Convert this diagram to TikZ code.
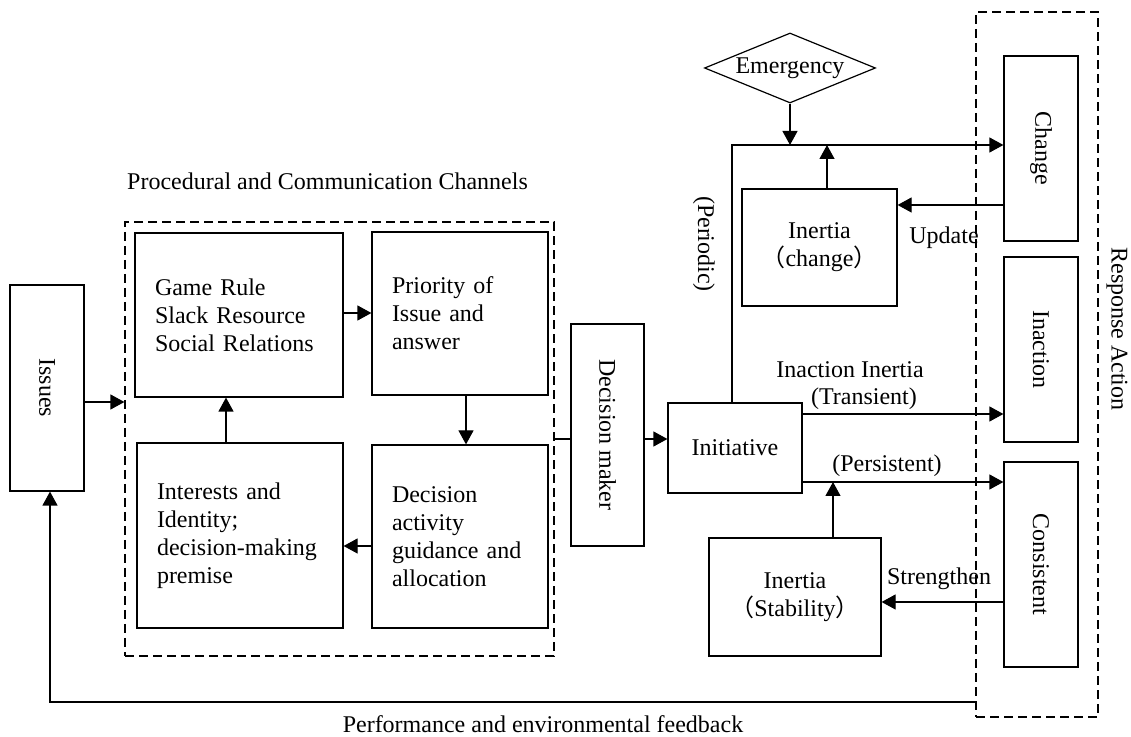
\documentclass[tikz,border=0pt]{standalone}
\usepackage{fontspec}
\setmainfont{Liberation Serif}
\newfontfamily\cjk{Noto Sans CJK SC}
\usetikzlibrary{arrows.meta}
\usetikzlibrary{shapes.geometric}

\tikzset{
  box/.style={draw, line width=0.6pt, inner sep=0pt},
  leftbox/.style={box, align=left, inner xsep=10pt, text width=#1},
  frame/.style={draw, line width=0.6pt, dash pattern=on 4.5pt off 2.5pt},
  arr/.style={line width=0.6pt, -{Triangle[length=7pt,width=7.5pt]}},
  conn/.style={line width=0.6pt},
}

\begin{document}
\begin{tikzpicture}[x=0.5pt, y=-0.5pt, font=\fontsize{12}{14}\selectfont]
\useasboundingbox (0,0) rectangle (1131,737);

% issues and the channels
\node[box, minimum width=37pt, minimum height=103pt] (issues) at (47,388) {\rotatebox{-90}{Issues}};
\node[frame, minimum width=214.5pt, minimum height=217pt] (chan) at (339.5,439) {};
\node (chantitle) at (327.5,181) {Procedural and Communication Channels};

\node[leftbox=84pt, minimum height=82pt] (rules) at (239,315) {Game Rule\\Slack Resource\\Social Relations};
\node[leftbox=68pt, minimum height=81.5pt] (priority) at (460,313.5) {Priority of\\Issue and\\answer};
\node[leftbox=83pt, minimum height=92.5pt] (interests) at (240,535.5) {Interests and\\Identity;\\decision-making\\premise};
\node[leftbox=68pt, minimum height=91.5pt] (activity) at (460,536.5) {Decision\\activity\\guidance and\\allocation};

\draw[arr] ([yshift=-7pt]issues.east) -- ([yshift=-7pt]issues.east -| chan.west);
\draw[arr] ([yshift=1pt]rules.east) -- ([yshift=1pt]rules.east -| priority.west);
\draw[arr] ([xshift=3pt]priority.south) -- ([xshift=3pt]priority.south |- activity.north);
\draw[arr] ([yshift=-4.75pt]activity.west) -- ([yshift=-4.75pt]activity.west -| interests.east);
\draw[arr] ([xshift=-7pt]interests.north) -- ([xshift=-7pt]interests.north |- rules.south);

% decision maker and initiative
\node[box, minimum width=36.5pt, minimum height=111pt] (maker) at (607.5,435) {\rotatebox{-90}{Decision maker}};
\node[box, minimum width=67pt, minimum height=45pt] (init) at (735,448) {Initiative};
\draw[conn] ([yshift=-2pt]maker.west -| chan.east) -- ([yshift=-2pt]maker.west);
\draw[arr] ([yshift=-2pt]maker.east) -- ([yshift=-2pt]maker.east -| init.west);

% response action
\node[frame, minimum width=61pt, minimum height=352.5pt] (resp) at (1037,364.5) {};
\node (resplbl) at (1117,329) {\rotatebox{-90}{Response Action}};
\node[box, minimum width=37pt, minimum height=92.5pt] (change) at (1041,148.5) {\rotatebox{-90}{Change}};
\node[box, minimum width=37pt, minimum height=92.5pt] (inaction) at (1041,349.5) {\rotatebox{-90}{Inaction}};
\node[box, minimum width=37pt, minimum height=102.5pt] (consist) at (1041,564.5) {\rotatebox{-90}{Consistent}};

% inertia
\node[diamond, draw, line width=0.6pt, inner sep=0pt, aspect=2.44, minimum width=85.5pt, minimum height=35pt] (emerg) at (790,68) {Emergency};
\node[box, minimum width=77.5pt, minimum height=58.5pt, align=center] (ichange) at (819.5,247.5) {Inertia\\{\cjk （}change{\cjk ）}};
\node[box, minimum width=86pt, minimum height=59pt, align=center] (stab) at (795,597) {Inertia\\{\cjk （}Stability{\cjk ）}};

\coordinate (bend) at (732,145);
\coordinate (pers) at ([yshift=-17pt]init.east);
\draw[arr] (init.north -| bend) -- (bend) -- (bend -| change.west);
\draw[arr] (emerg.south) -- (emerg.south |- bend);
\draw[arr] ([xshift=3.75pt]ichange.north) -- ([xshift=3.75pt]ichange.north |- bend);
\draw[arr] ([yshift=-28.25pt]change.west) -- ([yshift=-28.25pt]change.west -| ichange.east);
\draw[arr] ([yshift=17pt]init.east) -- ([yshift=17pt]init.east -| inaction.west);
\draw[arr] (pers) -- (pers -| consist.west);
\draw[arr] ([xshift=19pt]stab.north) -- ([xshift=19pt]stab.north |- pers);
\draw[arr] ([yshift=-18.75pt]consist.west) -- ([yshift=-18.75pt]consist.west -| stab.east);

\node (periodic) at (704,244) {\rotatebox{-90}{(Periodic)}};
\node (update) at (944,238) {Update};
\node (inactlbl) at (850,370) {Inaction Inertia};
\node (translbl) at (864,399) {(Transient)};
\node (perslbl) at (887,466) {(Persistent)};
\node (strlbl) at (939,579) {Strengthen};

% feedback
\coordinate (fb) at (50,702);
\draw[arr] (fb -| resp.west) -- (fb) -- (fb |- issues.south);
\node (fblbl) at (543,724) {Performance and environmental feedback};

\end{tikzpicture}
\end{document}
